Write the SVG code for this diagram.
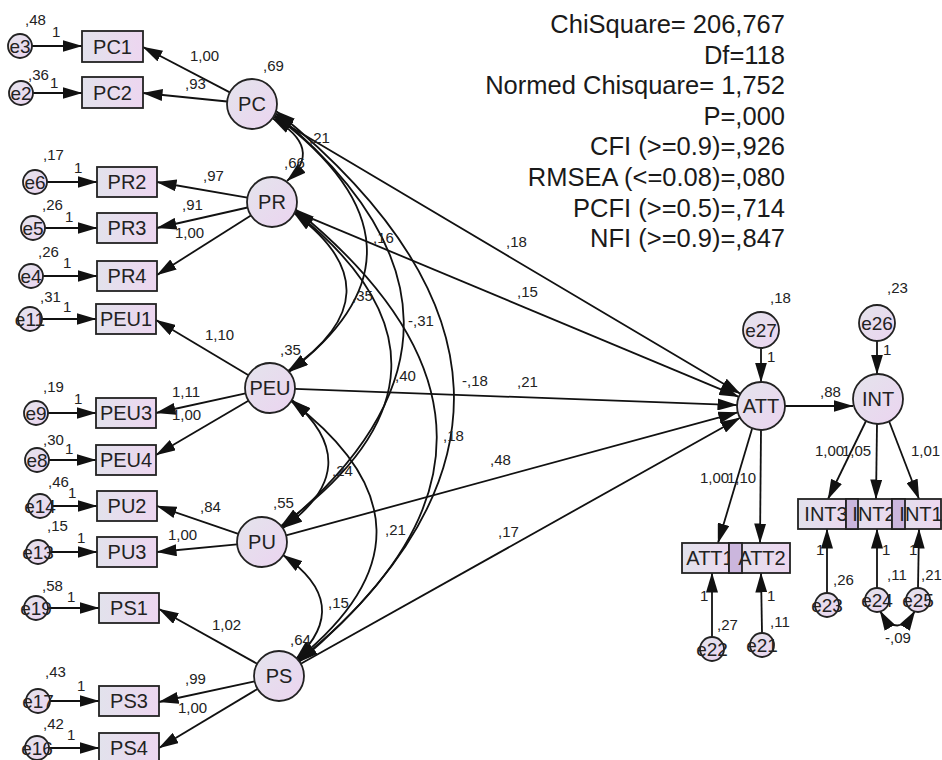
<svg xmlns="http://www.w3.org/2000/svg" width="942" height="760" viewBox="0 0 942 760">
<style>
.c{fill:url(#gc);stroke:#222;stroke-width:1.8}
.r{fill:url(#gr);stroke:#222;stroke-width:1.8}
.ov{fill:#cbb6dd;stroke:#222;stroke-width:1.8}
.n{font-family:"Liberation Sans",Arial,sans-serif;font-size:20px;fill:#222;text-anchor:middle}
.e{font-family:"Liberation Sans",Arial,sans-serif;font-size:19px;fill:#222;text-anchor:middle}
.l{font-family:"Liberation Sans",Arial,sans-serif;font-size:15px;fill:#222}
.s{font-family:"Liberation Sans",Arial,sans-serif;font-size:25.5px;fill:#1a1a1a;text-anchor:end}
#conn line,#conn path{stroke:#111;stroke-width:1.8;fill:none}
#conn line{marker-end:url(#a)}
#conn path{marker-start:url(#a);marker-end:url(#a)}
</style>
<defs>
<linearGradient id="gc" x1="0" y1="0" x2="1" y2="1"><stop offset="0" stop-color="#e4e4ec"/><stop offset="1" stop-color="#ebd4f0"/></linearGradient>
<linearGradient id="gr" x1="0" y1="0" x2="1" y2="0"><stop offset="0" stop-color="#e2e2ec"/><stop offset="1" stop-color="#edd6f0"/></linearGradient>
<marker id="a" viewBox="0 0 20 12" refX="19.5" refY="6" markerWidth="20" markerHeight="12" markerUnits="userSpaceOnUse" orient="auto-start-reverse"><path d="M0,0 L20,6 L0,12 z" fill="#111"/></marker>
</defs>
<rect width="942" height="760" fill="#fff"/>

<g id="conn">
<line x1="32" y1="46" x2="82" y2="46"/>
<line x1="33" y1="93" x2="82" y2="93"/>
<line x1="47" y1="182" x2="97" y2="182"/>
<line x1="45" y1="228" x2="97" y2="228"/>
<line x1="43" y1="276" x2="97" y2="276"/>
<line x1="42" y1="319" x2="96" y2="319"/>
<line x1="48" y1="413" x2="96" y2="413"/>
<line x1="49" y1="460" x2="96" y2="460"/>
<line x1="52" y1="506" x2="97" y2="506"/>
<line x1="50" y1="552" x2="97" y2="552"/>
<line x1="48" y1="608" x2="99" y2="608"/>
<line x1="50" y1="701" x2="99" y2="701"/>
<line x1="49" y1="748" x2="99" y2="748"/>
<line x1="229.8" y1="92.4" x2="143" y2="47"/>
<line x1="227.1" y1="101.5" x2="143" y2="93"/>
<line x1="247.4" y1="197.7" x2="157" y2="182"/>
<line x1="247.6" y1="207.5" x2="157" y2="228"/>
<line x1="250.9" y1="215.4" x2="157" y2="275"/>
<line x1="248.5" y1="375.2" x2="156" y2="320"/>
<line x1="245.6" y1="393.4" x2="156" y2="413"/>
<line x1="248.4" y1="400.7" x2="156" y2="455"/>
<line x1="238.3" y1="533.9" x2="157" y2="506"/>
<line x1="237.1" y1="544.4" x2="157" y2="552"/>
<line x1="257.2" y1="663.8" x2="159" y2="609"/>
<line x1="254.6" y1="681.3" x2="159" y2="702"/>
<line x1="257.6" y1="688.9" x2="159" y2="748"/>
<line x1="273.5" y1="116.8" x2="740.4" y2="393.8"/>
<line x1="295.1" y1="211.6" x2="738.8" y2="396.8"/>
<line x1="295" y1="388.9" x2="737" y2="405.1"/>
<line x1="286.1" y1="535.4" x2="737.8" y2="412.3"/>
<line x1="300.8" y1="663.8" x2="740.1" y2="417.7"/>
<line x1="785" y1="406" x2="853" y2="406"/>
<line x1="761" y1="348" x2="761" y2="382"/>
<line x1="877" y1="341" x2="877" y2="374"/>
<line x1="752" y1="429" x2="718" y2="543"/>
<line x1="761" y1="430" x2="760" y2="543"/>
<line x1="866" y1="421" x2="828" y2="499"/>
<line x1="877" y1="424" x2="876" y2="499"/>
<line x1="889" y1="421" x2="919" y2="499"/>
<line x1="712" y1="637" x2="712" y2="573"/>
<line x1="762" y1="633" x2="761" y2="573"/>
<line x1="827" y1="593" x2="827" y2="529"/>
<line x1="877" y1="588" x2="877" y2="529"/>
<line x1="918" y1="588" x2="919" y2="529"/>
<path d="M272,118 Q325,148 287,181"/>
<path d="M274,115 Q452,248 289,372"/>
<path d="M294,213 Q402,293 288,371"/>
<path d="M275,113 Q529,322 282,527"/>
<path d="M294,211 Q495,370 281,526"/>
<path d="M276,111 Q620,391 299,662"/>
<path d="M295,209 Q577,438 298,661"/>
<path d="M292,400 Q369,467 283,528"/>
<path d="M291,401 Q459,529 297,660"/>
<path d="M283,555 Q354,604 296,659"/>
<path d="M880,611 Q897,640 915,611"/>
</g>

<g id="PC1"><rect class="r" x="82" y="31" width="61" height="31"/><text class="n" x="112.5" y="53.5">PC1</text></g>
<g id="PC2"><rect class="r" x="82" y="77" width="61" height="31"/><text class="n" x="112.5" y="99.5">PC2</text></g>
<g id="PR2"><rect class="r" x="97" y="167" width="60" height="30"/><text class="n" x="127" y="189">PR2</text></g>
<g id="PR3"><rect class="r" x="97" y="213" width="60" height="30"/><text class="n" x="127" y="235">PR3</text></g>
<g id="PR4"><rect class="r" x="97" y="261" width="60" height="30"/><text class="n" x="127" y="283">PR4</text></g>
<g id="PEU1"><rect class="r" x="96" y="304" width="60" height="30"/><text class="n" x="126" y="326">PEU1</text></g>
<g id="PEU3"><rect class="r" x="96" y="398" width="60" height="30"/><text class="n" x="126" y="420">PEU3</text></g>
<g id="PEU4"><rect class="r" x="96" y="445" width="60" height="30"/><text class="n" x="126" y="467">PEU4</text></g>
<g id="PU2"><rect class="r" x="97" y="491" width="60" height="30"/><text class="n" x="127" y="513">PU2</text></g>
<g id="PU3"><rect class="r" x="97" y="537" width="60" height="30"/><text class="n" x="127" y="559">PU3</text></g>
<g id="PS1"><rect class="r" x="99" y="593" width="60" height="30"/><text class="n" x="129" y="615">PS1</text></g>
<g id="PS3"><rect class="r" x="99" y="686" width="60" height="30"/><text class="n" x="129" y="708">PS3</text></g>
<g id="PS4"><rect class="r" x="99" y="733" width="60" height="30"/><text class="n" x="129" y="755">PS4</text></g>

<g id="ATT1"><rect class="r" x="682" y="543" width="60" height="30"/><text class="n" x="710" y="565">ATT1</text></g>
<g id="ATT2"><rect class="r" x="729" y="543" width="61" height="30"/><rect class="ov" x="729" y="543" width="13" height="30"/><text class="n" x="762" y="565">ATT2</text></g>
<g id="INT3"><rect class="r" x="798" y="499" width="60" height="30"/><text class="n" x="826" y="521">INT3</text></g>
<g id="INT2"><rect class="r" x="846" y="499" width="59" height="30"/><rect class="ov" x="846" y="499" width="12" height="30"/><text class="n" x="874" y="521">INT2</text></g>
<g id="INT1"><rect class="r" x="892" y="499" width="49" height="30"/><rect class="ov" x="892" y="499" width="13" height="30"/><text class="n" x="921" y="521">INT1</text></g>

<g id="PC"><circle class="c" cx="252" cy="104" r="25"/><text class="n" x="252" y="111">PC</text></g>
<g id="PR"><circle class="c" cx="272" cy="202" r="25"/><text class="n" x="272" y="209">PR</text></g>
<g id="PEU"><circle class="c" cx="270" cy="388" r="25"/><text class="n" x="270" y="395">PEU</text></g>
<g id="PU"><circle class="c" cx="262" cy="542" r="25"/><text class="n" x="262" y="549">PU</text></g>
<g id="PS"><circle class="c" cx="279" cy="676" r="25"/><text class="n" x="279" y="683">PS</text></g>
<g id="ATT"><circle class="c" cx="761" cy="406" r="24"/><text class="n" x="761" y="413">ATT</text></g>
<g id="INT"><circle class="c" cx="878" cy="399" r="25"/><text class="n" x="878" y="406">INT</text></g>

<g id="e27"><circle class="c" cx="761" cy="330" r="18"/><text class="e" x="761" y="337">e27</text></g>
<g id="e26"><circle class="c" cx="877" cy="323" r="18"/><text class="e" x="877" y="330">e26</text></g>
<g id="e3"><circle class="c" cx="20" cy="46" r="12"/><text class="e" x="20" y="53">e3</text></g>
<g id="e2"><circle class="c" cx="21" cy="93" r="12"/><text class="e" x="21" y="100">e2</text></g>
<g id="e6"><circle class="c" cx="35" cy="182" r="12"/><text class="e" x="35" y="189">e6</text></g>
<g id="e5"><circle class="c" cx="33" cy="228" r="12"/><text class="e" x="33" y="235">e5</text></g>
<g id="e4"><circle class="c" cx="31" cy="276" r="12"/><text class="e" x="31" y="283">e4</text></g>
<g id="e11"><circle class="c" cx="30" cy="319" r="12"/><text class="e" x="30" y="326">e11</text></g>
<g id="e9"><circle class="c" cx="36" cy="413" r="12"/><text class="e" x="36" y="420">e9</text></g>
<g id="e8"><circle class="c" cx="37" cy="460" r="12"/><text class="e" x="37" y="467">e8</text></g>
<g id="e14"><circle class="c" cx="40" cy="506" r="12"/><text class="e" x="40" y="513">e14</text></g>
<g id="e13"><circle class="c" cx="38" cy="552" r="12"/><text class="e" x="38" y="559">e13</text></g>
<g id="e19"><circle class="c" cx="36" cy="608" r="12"/><text class="e" x="36" y="615">e19</text></g>
<g id="e17"><circle class="c" cx="38" cy="701" r="12"/><text class="e" x="38" y="708">e17</text></g>
<g id="e16"><circle class="c" cx="37" cy="748" r="12"/><text class="e" x="37" y="755">e16</text></g>
<g id="e22"><circle class="c" cx="712" cy="649" r="12"/><text class="e" x="712" y="656">e22</text></g>
<g id="e21"><circle class="c" cx="762" cy="645" r="12"/><text class="e" x="762" y="652">e21</text></g>
<g id="e23"><circle class="c" cx="827" cy="605" r="12"/><text class="e" x="827" y="612">e23</text></g>
<g id="e24"><circle class="c" cx="877" cy="600" r="12"/><text class="e" x="877" y="607">e24</text></g>
<g id="e25"><circle class="c" cx="918" cy="600" r="12"/><text class="e" x="918" y="607">e25</text></g>

<g id="labels">
<text class="l" x="25" y="25">,48</text><text class="l" x="52" y="37">1</text>
<text class="l" x="28" y="80">,36</text><text class="l" x="50" y="88">1</text>
<text class="l" x="263" y="71">,69</text><text class="l" x="190" y="61">1,00</text><text class="l" x="185" y="89">,93</text>
<text class="l" x="43" y="160">,17</text><text class="l" x="74" y="173">1</text>
<text class="l" x="42" y="210">,26</text><text class="l" x="65" y="222">1</text>
<text class="l" x="38" y="257">,26</text><text class="l" x="63" y="268">1</text>
<text class="l" x="40" y="302">,31</text><text class="l" x="63" y="312">1</text>
<text class="l" x="284" y="168">,66</text><text class="l" x="203" y="181">,97</text><text class="l" x="182" y="210">,91</text><text class="l" x="175" y="238">1,00</text>
<text class="l" x="280" y="355">,35</text><text class="l" x="205" y="340">1,10</text><text class="l" x="172" y="397">1,11</text><text class="l" x="172" y="420">1,00</text>
<text class="l" x="43" y="392">,19</text><text class="l" x="74" y="404">1</text>
<text class="l" x="43" y="445">,30</text><text class="l" x="65" y="454">1</text>
<text class="l" x="48" y="487">,46</text><text class="l" x="68" y="498">1</text>
<text class="l" x="273" y="508">,55</text><text class="l" x="200" y="512">,84</text><text class="l" x="168" y="540">1,00</text>
<text class="l" x="47" y="531">,15</text><text class="l" x="77" y="543">1</text>
<text class="l" x="42" y="591">,58</text><text class="l" x="67" y="602">1</text>
<text class="l" x="290" y="645">,64</text><text class="l" x="212" y="630">1,02</text><text class="l" x="185" y="684">,99</text><text class="l" x="178" y="713">1,00</text>
<text class="l" x="45" y="677">,43</text><text class="l" x="77" y="691">1</text>
<text class="l" x="43" y="729">,42</text><text class="l" x="67" y="740">1</text>
<text class="l" x="309" y="143">,21</text>
<text class="l" x="373" y="243">,16</text>
<text class="l" x="352" y="301">,35</text>
<text class="l" x="408" y="326">-,31</text>
<text class="l" x="395" y="381">,40</text>
<text class="l" x="462" y="386">-,18</text>
<text class="l" x="443" y="441">,18</text>
<text class="l" x="332" y="476">,24</text>
<text class="l" x="385" y="535">,21</text>
<text class="l" x="328" y="608">,15</text>
<text class="l" x="506" y="247">,18</text>
<text class="l" x="517" y="297">,15</text>
<text class="l" x="517" y="387">,21</text>
<text class="l" x="490" y="465">,48</text>
<text class="l" x="498" y="537">,17</text>
<text class="l" x="770" y="303">,18</text>
<text class="l" x="887" y="293">,23</text>
<text class="l" x="767" y="362">1</text>
<text class="l" x="883" y="355">1</text>
<text class="l" x="820" y="397">,88</text>
<text class="l" x="700" y="483">1,00</text><text class="l" x="727" y="483">1,10</text>
<text class="l" x="815" y="456">1,00</text><text class="l" x="842" y="456">1,05</text><text class="l" x="911" y="456">1,01</text>
<text class="l" x="700" y="601">1</text><text class="l" x="717" y="630">,27</text>
<text class="l" x="767" y="601">1</text><text class="l" x="770" y="627">,11</text>
<text class="l" x="816" y="555">1</text><text class="l" x="833" y="585">,26</text>
<text class="l" x="882" y="555">1</text><text class="l" x="887" y="580">,11</text>
<text class="l" x="909" y="555">1</text><text class="l" x="921" y="580">,21</text>
<text class="l" x="885" y="643">-,09</text>
</g>

<g id="stats">
<text class="s" x="785" y="33">ChiSquare= 206,767</text>
<text class="s" x="785" y="63.6">Df=118</text>
<text class="s" x="785" y="94.2">Normed Chisquare= 1,752</text>
<text class="s" x="785" y="124.8">P=,000</text>
<text class="s" x="785" y="155.4">CFI (&gt;=0.9)=,926</text>
<text class="s" x="785" y="186">RMSEA (&lt;=0.08)=,080</text>
<text class="s" x="785" y="216.6">PCFI (&gt;=0.5)=,714</text>
<text class="s" x="785" y="247.2">NFI (&gt;=0.9)=,847</text>
</g>
</svg>
